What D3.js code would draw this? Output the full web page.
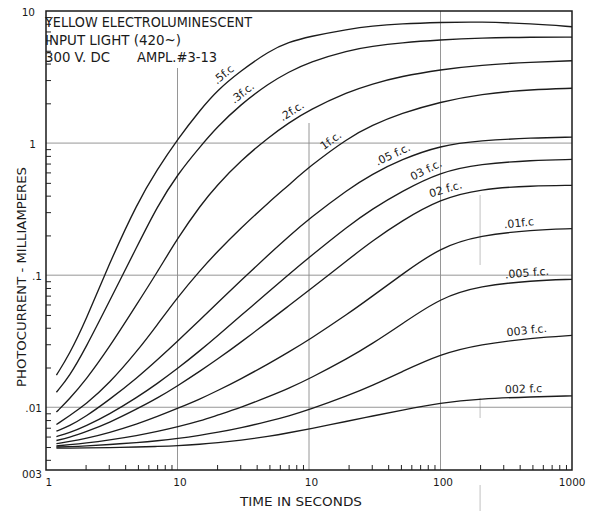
<!DOCTYPE html>
<html>
<head>
<meta charset="utf-8">
<script src="https://cdn.jsdelivr.net/npm/d3@7"></script>
<style>
  body { margin: 0; background: #fff; }
  text { font-family: "DejaVu Sans", "Liberation Sans", sans-serif; fill: #1a1a1a; }
</style>
</head>
<body>
<svg id="chart" width="594" height="511"></svg>
<script>
// Sample times (seconds) shared by every response curve
const times = [0.12, 0.15, 0.2, 0.3, 0.5, 0.7, 1, 1.5, 2, 3, 5, 7, 10, 20, 30, 50, 100, 200, 500, 1000];

// Photocurrent (mA) for each input light level (foot-candles)
const fc050  = [0.0175, 0.025, 0.045, 0.12, 0.36, 0.63, 1.07, 1.8, 2.5, 3.5, 5.0, 5.8, 6.4, 7.3, 7.7, 8.0, 8.2, 8.3, 8.0, 7.6];
const fc030  = [0.013, 0.017, 0.028, 0.062, 0.17, 0.33, 0.58, 0.95, 1.32, 1.95, 2.85, 3.45, 4.1, 5.05, 5.4, 5.75, 6.05, 6.25, 6.35, 6.35];
const fc020  = [0.0092, 0.0115, 0.016, 0.028, 0.062, 0.105, 0.19, 0.34, 0.48, 0.73, 1.12, 1.42, 1.78, 2.45, 2.8, 3.2, 3.6, 3.9, 4.1, 4.2];
const fc010  = [0.0074, 0.0086, 0.0105, 0.015, 0.027, 0.042, 0.068, 0.11, 0.15, 0.225, 0.36, 0.48, 0.66, 1.1, 1.36, 1.68, 2.05, 2.35, 2.55, 2.6];
const fc005  = [0.0066, 0.0072, 0.0085, 0.0113, 0.0169, 0.0228, 0.0316, 0.0465, 0.0612, 0.090, 0.145, 0.196, 0.267, 0.45, 0.58, 0.75, 0.96, 1.045, 1.095, 1.11];
const fc003  = [0.0060, 0.0064, 0.0072, 0.0088, 0.0120, 0.0151, 0.0196, 0.0271, 0.0345, 0.0489, 0.0759, 0.101, 0.136, 0.237, 0.315, 0.428, 0.605, 0.695, 0.741, 0.752];
const fc002  = [0.0056, 0.0059, 0.0065, 0.0076, 0.0098, 0.0117, 0.0145, 0.0189, 0.0230, 0.0308, 0.0453, 0.0585, 0.0767, 0.132, 0.180, 0.256, 0.378, 0.450, 0.475, 0.479];
const fc001  = [0.0053, 0.0055, 0.0058, 0.0064, 0.0075, 0.0085, 0.0098, 0.0116, 0.0133, 0.0163, 0.0215, 0.0262, 0.0324, 0.0513, 0.0687, 0.100, 0.163, 0.200, 0.220, 0.225];
const fc0005 = [0.0051, 0.0052, 0.00535, 0.00564, 0.00612, 0.00655, 0.0071, 0.0079, 0.0087, 0.0099, 0.0121, 0.0139, 0.0164, 0.0236, 0.0301, 0.0421, 0.0675, 0.083, 0.091, 0.093];
const fc0003 = [0.0050, 0.00503, 0.00509, 0.00522, 0.00541, 0.00557, 0.00579, 0.00614, 0.00644, 0.00698, 0.00785, 0.00859, 0.00957, 0.0123, 0.01455, 0.0184, 0.0253, 0.0299, 0.0335, 0.035];
const fc0002 = [0.0049, 0.00491, 0.00492, 0.00495, 0.0050, 0.00505, 0.00511, 0.00525, 0.00538, 0.00562, 0.00604, 0.0064, 0.00685, 0.00787, 0.00857, 0.00948, 0.0108, 0.0116, 0.0120, 0.0122];

const seriesValues = [fc050, fc030, fc020, fc010, fc005, fc003, fc002, fc001, fc0005, fc0003, fc0002];
const seriesLabels = [".5f.c", ".3f.c.", ".2f.c.", "1f.c.", ".05 f.c.", "03 f.c.", "02 f.c.", ".01f.c", ".005 f.c.", "003 f.c.", "002 f.c"];
const labelTimes   = [2.45, 3.4, 8, 16, 46, 83, 114, 400, 460, 460, 430];

// Axis ticks
const xTickValues = [0.1, 1, 10, 100, 1000];
const xTickLabels = ["1", "10", "10", "100", "1000"];
const yTickValues = [10, 1, 0.1, 0.01, 0.00335];
const yTickLabels = ["10", "1", ".1", ".01", "003"];

const titleLines = ["YELLOW ELECTROLUMINESCENT", "INPUT LIGHT (420~)"];
const titleLine3 = ["300 V. DC", "AMPL.#3-13"];
const xTitle = "TIME IN SECONDS";
const yTitle = "PHOTOCURRENT - MILLIAMPERES";

const svg = d3.select("#chart");
const plotLeft = 46, plotRight = 572, plotTop = 11, plotBottom = 470;

const x = d3.scaleLog().domain([0.1, 1000]).range([plotLeft, plotRight]);
const y = d3.scaleLog().domain([0.00335, 10]).range([plotBottom, plotTop]);

// Grid lines
const grid = svg.append("g").attr("stroke", "#8a8a8a").attr("stroke-width", 0.9).attr("fill", "none");
[1, 0.1, 0.01].forEach(v => {
  grid.append("line").attr("x1", plotLeft).attr("x2", plotRight).attr("y1", y(v)).attr("y2", y(v));
});
[[1, 68], [10, 123], [100, plotTop]].forEach(([t, y0]) => {
  grid.append("line").attr("x1", x(t)).attr("x2", x(t)).attr("y1", y0).attr("y2", plotBottom);
});
// short partial rules at 200
[[195, 265], [398, 418], [485, 511]].forEach(([a, b]) => {
  grid.append("line").attr("x1", x(200)).attr("x2", x(200)).attr("y1", a).attr("y2", b)
    .attr("stroke-opacity", 0.6);
});

// Minor ticks, drawn inward
const yMinor = [];
[0.001, 0.01, 0.1, 1].forEach(d => { for (let k = 2; k <= 9; k++) { const v = k * d; if (v > 0.00335 && v < 10) yMinor.push(v); } });
const xMinor = [];
[0.1, 1, 10, 100].forEach(d => { for (let k = 2; k <= 9; k++) xMinor.push(k * d); });

svg.append("g").attr("transform", `translate(${plotLeft},0)`)
  .call(d3.axisRight(y).tickValues(yMinor).tickSize(5).tickFormat(""))
  .call(g => g.select(".domain").remove())
  .call(g => g.selectAll("line").attr("stroke", "#222").attr("stroke-width", 1));
svg.append("g").attr("transform", `translate(0,${plotBottom})`)
  .call(d3.axisTop(x).tickValues(xMinor).tickSize(5).tickFormat(""))
  .call(g => g.select(".domain").remove())
  .call(g => g.selectAll("line").attr("stroke", "#222").attr("stroke-width", 1));

// Major tick labels
svg.append("g").attr("transform", `translate(0,${plotBottom})`)
  .call(d3.axisBottom(x).tickValues(xTickValues).tickSize(0).tickPadding(9)
    .tickFormat((d, i) => xTickLabels[i]))
  .call(g => g.select(".domain").remove())
  .call(g => g.selectAll("text").attr("font-size", 10.5).attr("fill", "#1a1a1a")
    .attr("text-anchor", (d, i) => i === 4 ? "end" : (i === 0 ? "start" : "middle"))
    .attr("dx", (d, i) => i === 4 ? 13 : (i === 0 ? -1 : 2)));
svg.append("g").attr("transform", `translate(${plotLeft},0)`)
  .call(d3.axisLeft(y).tickValues(yTickValues).tickSize(0).tickPadding(4)
    .tickFormat((d, i) => yTickLabels[i]))
  .call(g => g.select(".domain").remove())
  .call(g => g.selectAll("text").attr("font-size", 10.5).attr("fill", "#1a1a1a")
    .attr("dx", (d, i) => i === 0 ? -7 : (i === 1 ? -6 : 0))
    .attr("dy", (d, i) => i === 4 ? "0.75em" : (i === 0 ? "0.45em" : "0.4em")));

// Plot frame
svg.append("rect").attr("x", plotLeft).attr("y", plotTop)
  .attr("width", plotRight - plotLeft).attr("height", plotBottom - plotTop)
  .attr("fill", "none").attr("stroke", "#1a1a1a").attr("stroke-width", 1.5);

// Response curves
const line = d3.line().x(d => x(d[0])).y(d => y(d[1])).curve(d3.curveBasis);
svg.append("g").selectAll("path").data(seriesValues).join("path")
  .attr("d", vals => line(times.map((t, i) => [t, vals[i]])))
  .attr("fill", "none").attr("stroke", "#1c1c1c").attr("stroke-width", 1.35);

// Log-log interpolation of a curve at time t
function valueAt(vals, t) {
  for (let i = 0; i < times.length - 1; i++) {
    if (t >= times[i] && t <= times[i + 1]) {
      const f = (Math.log(t) - Math.log(times[i])) / (Math.log(times[i + 1]) - Math.log(times[i]));
      return Math.exp(Math.log(vals[i]) + f * (Math.log(vals[i + 1]) - Math.log(vals[i])));
    }
  }
  return vals[vals.length - 1];
}

// Curve labels laid along each curve
seriesValues.forEach((vals, i) => {
  const t = labelTimes[i];
  const t0 = t / 1.2, t1 = Math.min(t * 1.2, 1000);
  const px0 = x(t0), py0 = y(valueAt(vals, t0));
  const px1 = x(t1), py1 = y(valueAt(vals, t1));
  const ang = Math.atan2(py1 - py0, px1 - px0);
  const px = x(t), py = y(valueAt(vals, t));
  const off = 4.5;
  const lx = px + Math.sin(ang) * off, ly = py - Math.cos(ang) * off;
  svg.append("text").attr("x", lx).attr("y", ly)
    .attr("transform", `rotate(${ang * 180 / Math.PI},${lx},${ly})`)
    .attr("text-anchor", "middle").attr("font-size", 11)
    .text(seriesLabels[i]);
});

// Title block
const tb = svg.append("g").attr("font-size", 13.5);
tb.append("text").attr("x", 45).attr("y", 27).attr("textLength", 207).attr("lengthAdjust", "spacingAndGlyphs").text(titleLines[0]);
tb.append("text").attr("x", 45).attr("y", 45).attr("textLength", 136).attr("lengthAdjust", "spacingAndGlyphs").text(titleLines[1]);
tb.append("text").attr("x", 45).attr("y", 62).attr("textLength", 65).attr("lengthAdjust", "spacingAndGlyphs").text(titleLine3[0]);
tb.append("text").attr("x", 137).attr("y", 62).attr("textLength", 80).attr("lengthAdjust", "spacingAndGlyphs").text(titleLine3[1]);

// Axis titles
svg.append("text").attr("x", 301).attr("y", 506).attr("text-anchor", "middle")
  .attr("font-size", 12.5).attr("textLength", 122).attr("lengthAdjust", "spacingAndGlyphs").text(xTitle);
svg.append("text").attr("transform", "translate(26,277) rotate(-90)").attr("text-anchor", "middle")
  .attr("font-size", 12.5).attr("textLength", 220).attr("lengthAdjust", "spacingAndGlyphs").text(yTitle);
</script>
</body>
</html>
